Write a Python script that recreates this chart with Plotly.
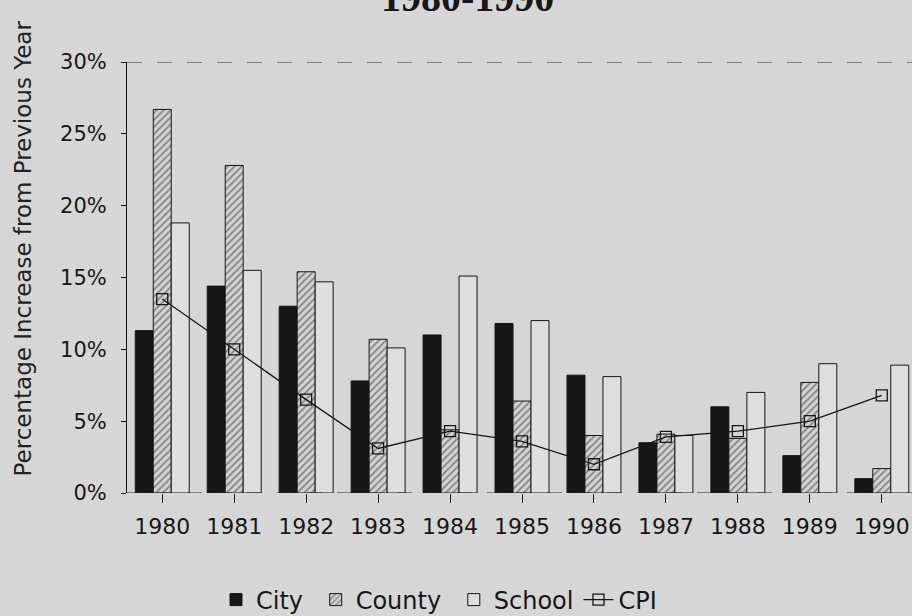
import plotly.graph_objects as go

years = ["1980", "1981", "1982", "1983", "1984", "1985", "1986", "1987", "1988", "1989", "1990"]
city = [11.3, 14.4, 13.0, 7.8, 11.0, 11.8, 8.2, 3.5, 6.0, 2.6, 1.0]
county = [26.7, 22.8, 15.4, 10.7, 4.4, 6.4, 4.0, 4.1, 3.8, 7.7, 1.7]
school = [18.8, 15.5, 14.7, 10.1, 15.1, 12.0, 8.1, 4.0, 7.0, 9.0, 8.9]
cpi = [13.5, 10.0, 6.5, 3.1, 4.3, 3.6, 2.0, 3.9, 4.3, 5.0, 6.8]
y_ticks = [0, 5, 10, 15, 20, 25, 30]
y_ticktext = ["0%", "5%", "10%", "15%", "20%", "25%", "30%"]

xs = list(range(len(years)))
BG = "#d6d6d6"
INK = "#161616"
FONT = "DejaVu Sans, Liberation Sans, Arial, sans-serif"
NB = "\u00a0"

fig = go.Figure()
fig.add_trace(go.Bar(
    x=xs, y=city, name="City" + NB,
    marker=dict(color=INK, line=dict(color=INK, width=1)),
))
fig.add_trace(go.Bar(
    x=xs, y=county, name="County" + NB,
    marker=dict(color="#cfcfcf", line=dict(color=INK, width=1),
                pattern=dict(shape="/", fgcolor="#3a3a3a", bgcolor="#d2d2d2",
                             size=5, solidity=0.35)),
))
fig.add_trace(go.Bar(
    x=xs, y=school, name="School",
    marker=dict(color="#dedede", line=dict(color=INK, width=1)),
))
fig.add_trace(go.Scatter(
    x=xs, y=cpi, name="CPI", mode="lines+markers",
    line=dict(color=INK, width=1.3),
    marker=dict(symbol="square-open", size=11, color=INK, line=dict(width=1.3)),
))

# dashed top frame line and dashed baseline
fig.add_shape(type="line", xref="paper", yref="y", x0=0, x1=1, y0=30, y1=30,
              line=dict(color="#2a2a2a", width=1, dash="longdash"))
fig.add_shape(type="line", xref="paper", yref="y", x0=0, x1=1, y0=0, y1=0,
              line=dict(color="#2a2a2a", width=1.2, dash="longdash"))

fig.add_annotation(text="<b>1980-1990</b>", xref="paper", yref="paper",
                   x=(467 - 127) / 785, y=1.093, xanchor="center", yanchor="bottom",
                   showarrow=False,
                   font=dict(family="Liberation Serif, Times New Roman, serif", size=40, color=INK))
fig.add_annotation(text="Percentage Increase from Previous Year", xref="paper", yref="paper",
                   x=(22 - 127) / 785, y=(493 - 248.5) / 431, xanchor="center", yanchor="middle",
                   textangle=-90, showarrow=False,
                   font=dict(family=FONT, size=23, color="#222222"))

fig.update_layout(
    width=912, height=616,
    margin=dict(l=127, r=0, t=62, b=123),
    paper_bgcolor=BG, plot_bgcolor=BG,
    barmode="group", bargap=0.25, bargroupgap=0,
    font=dict(family=FONT, color=INK),
    showlegend=True,
    legend=dict(orientation="h", xref="container", yref="container",
                x=216 / 912, xanchor="left",
                y=1 - 600 / 616, yanchor="middle", font=dict(size=24, color=INK),
                bgcolor="rgba(0,0,0,0)"),
    xaxis=dict(range=[-0.49, 10.42], tickmode="array", tickvals=xs, ticktext=years,
               ticks="outside", ticklen=9, tickwidth=1, tickcolor=INK,
               ticklabelstandoff=5,
               showline=False, showgrid=False, zeroline=False,
               tickfont=dict(size=22, color=INK)),
    yaxis=dict(range=[0, 30], tickmode="array", tickvals=y_ticks, ticktext=y_ticktext,
               ticks="outside", ticklen=5, tickwidth=1, tickcolor=INK,
               ticklabelstandoff=10,
               showline=True, linecolor=INK, linewidth=1,
               showgrid=False, zeroline=False,
               tickfont=dict(size=21, color=INK)),
)

fig.write_html(
    "out.html",
    config={"displayModeBar": False},
    post_script="document.body.style.margin='0';document.body.style.background='" + BG + "';",
)
